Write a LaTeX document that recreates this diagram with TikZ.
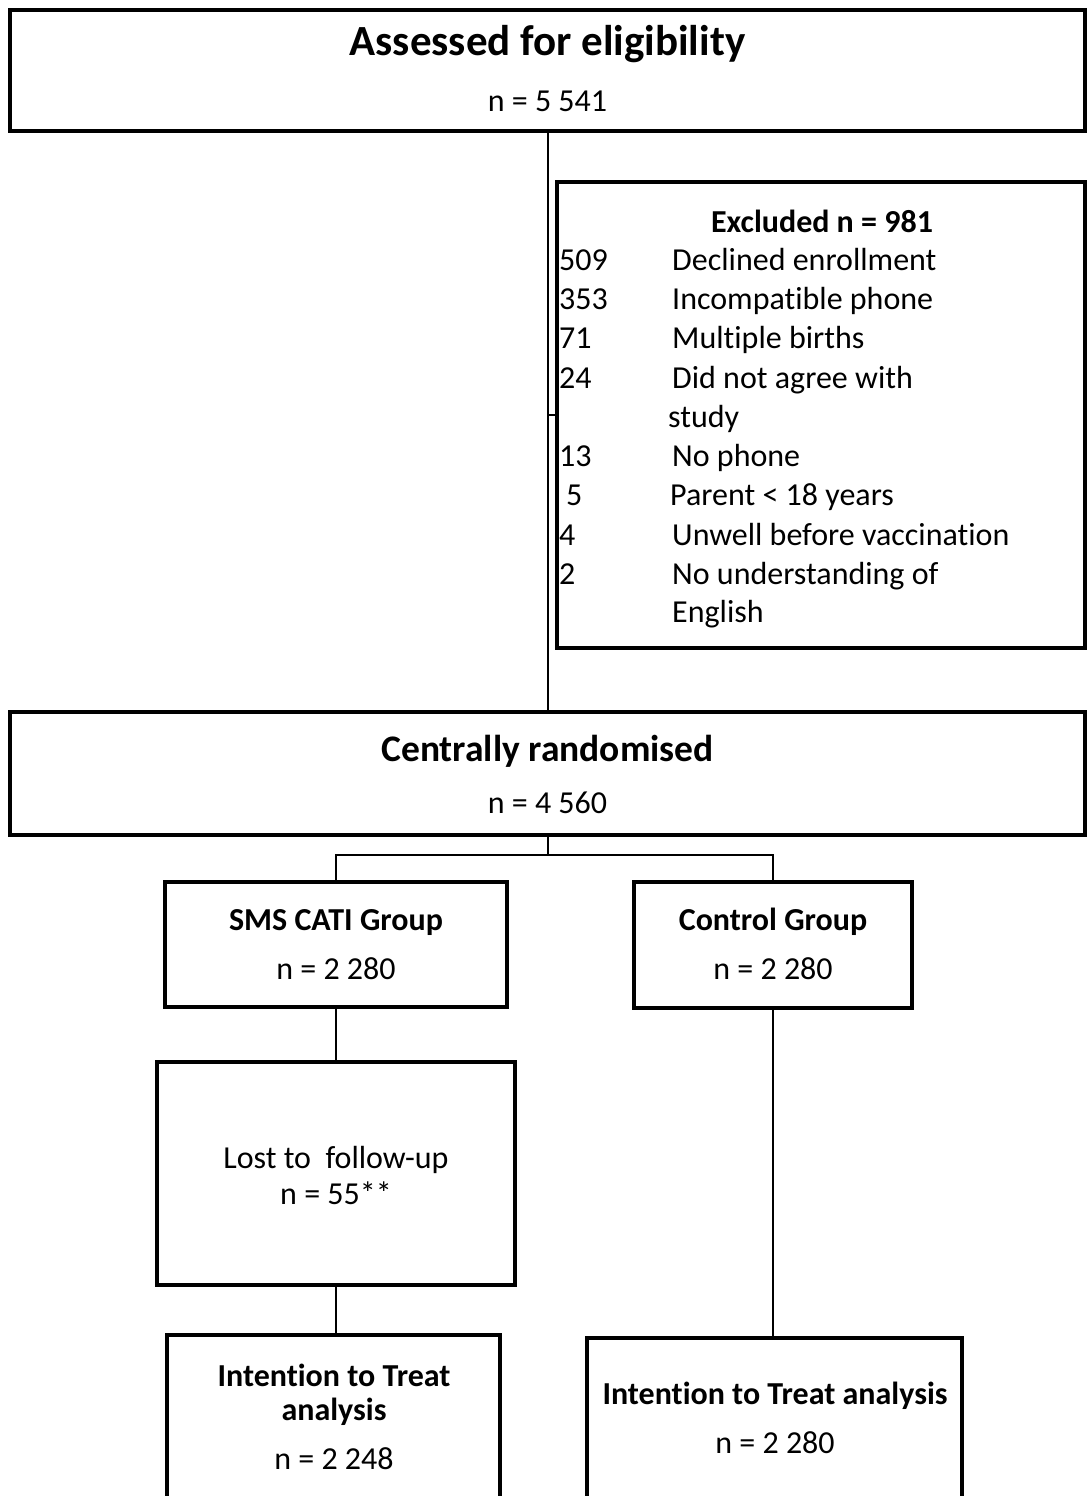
\documentclass[tikz,border=0pt]{standalone}
\usepackage{fontspec}
\setmainfont[Ligatures={NoCommon}]{Carlito}
\begin{document}
\begin{tikzpicture}[x=1pt,y=-1pt,
  box/.style={draw=black, line width=4pt, rectangle, inner sep=0pt, fill=white},
  link/.style={draw=black, line width=2pt},
  txt/.style={inner sep=0pt, anchor=base, font=\fontsize{32}{39}\selectfont},
  btxt/.style={inner sep=0pt, anchor=base, font=\fontsize{32}{39}\selectfont\bfseries},
  bigtxt/.style={inner sep=0pt, anchor=base, font=\fontsize{43}{52}\selectfont\bfseries},
  midtxt/.style={inner sep=0pt, anchor=base, font=\fontsize{37.5}{45}\selectfont\bfseries},
  rowtxt/.style={inner sep=0pt, anchor=base west, font=\fontsize{32}{39}\selectfont}]
\useasboundingbox (0,0) rectangle (1087,1496);
\clip (0,0) rectangle (1087,1496);

% boxes
\node[box, minimum width=1075pt, minimum height=121pt] (assess) at (547.5,70.5) {};
\node[box, minimum width=528pt, minimum height=466pt] (excl) at (821,415) {};
\node[box, minimum width=1075pt, minimum height=123pt] (rand) at (547.5,773.5) {};
\node[box, minimum width=342pt, minimum height=125pt] (sms) at (336,944.5) {};
\node[box, minimum width=278pt, minimum height=126pt] (ctrl) at (773,945) {};
\node[box, minimum width=358pt, minimum height=223pt] (lost) at (336,1173.5) {};
\node[box, minimum width=333pt, minimum height=200pt] (itta) at (333.5,1435) {};
\node[box, minimum width=375pt, minimum height=200pt] (ittb) at (774.5,1438) {};

% connectors
\draw[link] (assess.south) -- (rand.north);
\draw[link] (assess.south |- excl.west) -- (excl.west);
\coordinate (split) at (547.5,855);
\draw[link] (rand.south) -- (split);
\draw[link] (split) -| (sms.north);
\draw[link] (split) -| (ctrl.north);
\draw[link] (sms.south) -- (lost.north);
\draw[link] (lost.south) -- (lost.south |- itta.north);
\draw[link] (ctrl.south) -- (ctrl.south |- ittb.north);

% texts of the main boxes
\node[bigtxt] (assessT) at (547.5,56) {Assessed for eligibility};
\node[txt] (assessN) at (547.5,111) {n = 5 541};
\node[midtxt] (randT) at (547.5,761) {Centrally randomised};
\node[txt] (randN) at (547.5,813) {n = 4 560};
\node[btxt] (smsT) at (336,930) {SMS CATI Group};
\node[txt] (smsN) at (336,979) {n = 2 280};
\node[btxt] (ctrlT) at (773,930) {Control Group};
\node[txt] (ctrlN) at (773,979) {n = 2 280};
\node[txt] (lostT) at (336,1168) {Lost to~ follow-up};
\node[txt] (lostN) at (336,1204) {n = 55**};
\node[btxt] (ittaT1) at (334,1386) {Intention to Treat};
\node[btxt] (ittaT2) at (334,1420) {analysis};
\node[txt] (ittaN) at (334,1469) {n = 2 248};
\node[btxt] (ittbT) at (775,1404) {Intention to Treat analysis};
\node[txt] (ittbN) at (775,1453) {n = 2 280};

% exclusion list
\node[btxt] (exclT) at (822,232) {Excluded n = 981};
\node[rowtxt] (e1n) at (559,270) {509};
\node[rowtxt] (e1t) at (672,270) {Declined enrollment};
\node[rowtxt] (e2n) at (559,309) {353};
\node[rowtxt] (e2t) at (672,309) {Incompatible phone};
\node[rowtxt] (e3n) at (559,348) {71};
\node[rowtxt] (e3t) at (672,348) {Multiple births};
\node[rowtxt] (e4n) at (559,388) {24};
\node[rowtxt] (e4t) at (672,388) {Did not agree with};
\node[rowtxt] (e4u) at (668,427) {study};
\node[rowtxt] (e5n) at (559,466) {13};
\node[rowtxt] (e5t) at (672,466) {No phone};
\node[rowtxt] (e6n) at (566,505) {5};
\node[rowtxt] (e6t) at (670,505) {Parent < 18 years};
\node[rowtxt] (e7n) at (559,545) {4};
\node[rowtxt] (e7t) at (672,545) {Unwell before vaccination};
\node[rowtxt] (e8n) at (559,584) {2};
\node[rowtxt] (e8t) at (672,584) {No understanding of};
\node[rowtxt] (e8u) at (672,622) {English};
\end{tikzpicture}
\end{document}
